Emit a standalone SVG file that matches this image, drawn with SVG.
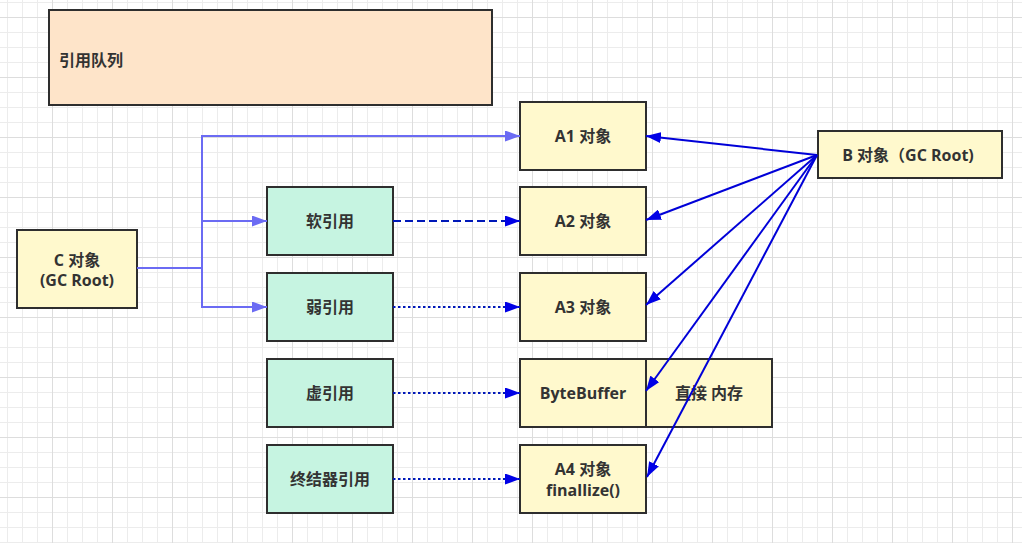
<svg xmlns="http://www.w3.org/2000/svg" width="1022" height="543" viewBox="0 0 1022 543">
<style>
.box{stroke:#2e2e2e;stroke-width:2}
.yel{fill:#fff9cd}
.grn{fill:#c6f4e1}
.org{fill:#fee4c9}
text{font-family:'Open Sans','Noto Sans CJK SC',sans-serif;font-weight:bold;font-size:16px;fill:#333;dominant-baseline:central;text-anchor:middle}
.lb{fill:none;stroke:#6b6bf3;stroke-width:2}
.db{fill:none;stroke:#0000d8;stroke-width:2}
.dash{stroke:#0018b8;stroke-dasharray:8 4}
.dot{stroke:#0018b8;stroke-dasharray:2.5 2.5}
</style>
<defs>
<pattern id="grid" x="52" y="17" width="60" height="60" patternUnits="userSpaceOnUse">
<path d="M15.5,0V60M30.5,0V60M45.5,0V60M0,15.5H60M0,30.5H60M0,45.5H60" stroke="#ececec" stroke-width="1" fill="none"/>
<path d="M0.5,0V60M0,0.5H60" stroke="#dddddd" stroke-width="1" fill="none"/>
</pattern>
<marker id="al" viewBox="0 0 15 11" markerWidth="15" markerHeight="11" refX="15" refY="5.5" orient="auto" markerUnits="userSpaceOnUse">
<path d="M0,0L15,5.5L0,11z" fill="#6b6bf3"/>
</marker>
<marker id="ad" viewBox="0 0 15 11" markerWidth="15" markerHeight="11" refX="15" refY="5.5" orient="auto" markerUnits="userSpaceOnUse">
<path d="M0,0L15,5.5L0,11z" fill="#0000e6"/>
</marker>
</defs>
<rect width="1022" height="543" fill="#ffffff"/>
<rect width="1022" height="543" fill="url(#grid)"/>

<g id="queue"><rect class="box org" x="49" y="10" width="443" height="95"/><text x="59" y="60" style="text-anchor:start">引用队列</text></g>
<g id="c-obj"><rect class="box yel" x="17" y="230" width="120" height="78"/><text x="77" y="260">C 对象</text><text x="77" y="280">(GC Root)</text></g>
<g id="soft"><rect class="box grn" x="267" y="187" width="126" height="68"/><text x="330" y="221">软引用</text></g>
<g id="weak"><rect class="box grn" x="267" y="273" width="126" height="68"/><text x="330" y="307">弱引用</text></g>
<g id="phantom"><rect class="box grn" x="267" y="359" width="126" height="68"/><text x="330" y="393">虚引用</text></g>
<g id="final"><rect class="box grn" x="267" y="445" width="126" height="68"/><text x="330" y="479">终结器引用</text></g>
<g id="a1"><rect class="box yel" x="520" y="102" width="126" height="68"/><text x="583" y="136">A1 对象</text></g>
<g id="a2"><rect class="box yel" x="520" y="187" width="126" height="68"/><text x="583" y="221">A2 对象</text></g>
<g id="a3"><rect class="box yel" x="520" y="273" width="126" height="68"/><text x="583" y="307">A3 对象</text></g>
<g id="bytebuffer"><rect class="box yel" x="520" y="359" width="126" height="68"/><text x="583" y="393">ByteBuffer</text></g>
<g id="direct"><rect class="box yel" x="646" y="359" width="126" height="68"/><text x="709" y="393">直接 内存</text></g>
<g id="a4"><rect class="box yel" x="520" y="445" width="126" height="68"/><text x="583" y="469">A4 对象</text><text x="583" y="490">finallize()</text></g>
<g id="b-obj"><rect class="box yel" x="818" y="131" width="184" height="47"/><text x="908" y="155">B 对象（GC Root)</text></g>

<g id="connectors">
<path class="lb" d="M137,268H202V136H520" marker-end="url(#al)"/>
<path class="lb" d="M137,268H202V221H267" marker-end="url(#al)"/>
<path class="lb" d="M137,268H202V307H267" marker-end="url(#al)"/>
<path class="db dash" d="M393,221H520" marker-end="url(#ad)"/>
<path class="db dot" d="M393,307H520" marker-end="url(#ad)"/>
<path class="db dot" d="M393,393H520" marker-end="url(#ad)"/>
<path class="db dot" d="M393,479H520" marker-end="url(#ad)"/>
<path class="db" d="M817,155L646,136" marker-end="url(#ad)"/>
<path class="db" d="M817,155L646,220" marker-end="url(#ad)"/>
<path class="db" d="M817,155L646,305" marker-end="url(#ad)"/>
<path class="db" d="M817,155L646,391" marker-end="url(#ad)"/>
<path class="db" d="M817,155L647,477" marker-end="url(#ad)"/>
</g>
</svg>
